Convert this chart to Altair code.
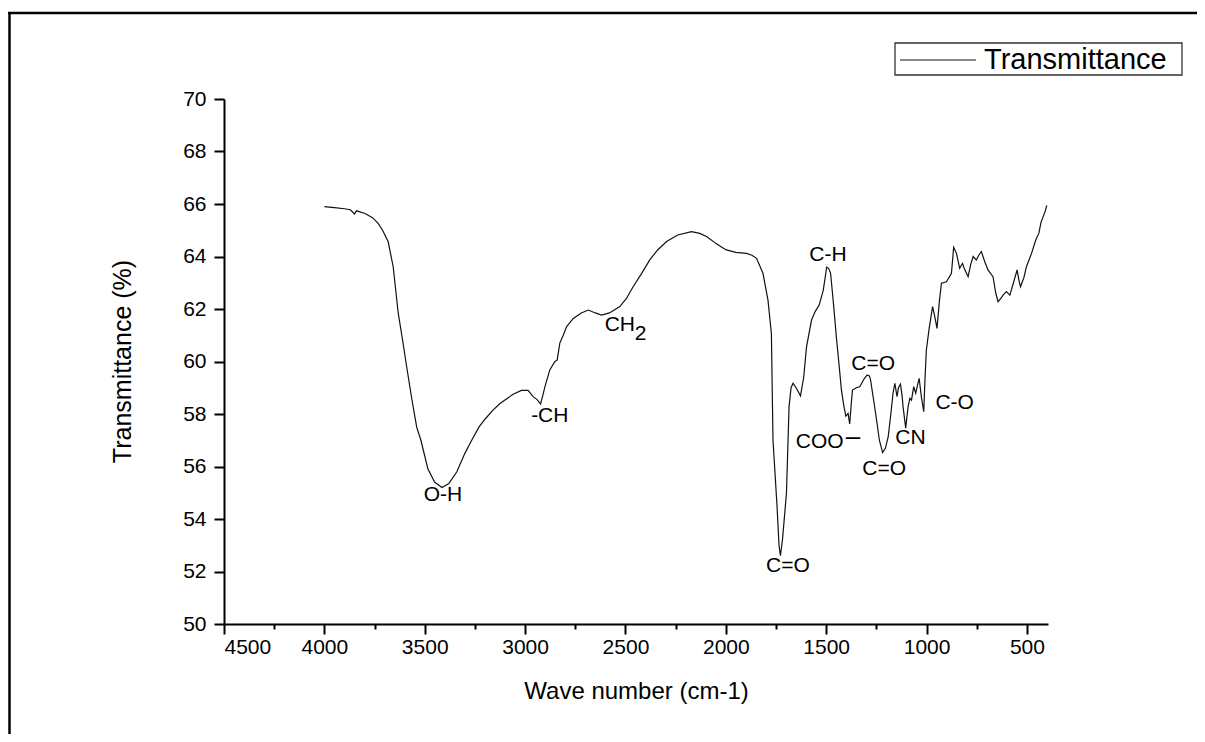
import altair as alt
import pandas as pd

# ---- spectrum (wave number in cm-1, transmittance in %) ----
wavenumber = [
    4000, 3950, 3900, 3870, 3850, 3840, 3800, 3760, 3732, 3710, 3682, 3657, 3632, 3610,
    3590, 3565, 3540, 3519, 3500, 3484, 3450, 3414, 3380, 3340, 3300, 3266, 3230, 3200,
    3160, 3125, 3060, 3018, 2985, 2960, 2940, 2923, 2912, 2901, 2877, 2852, 2840, 2827,
    2810, 2793, 2760, 2720, 2685, 2650, 2619, 2580, 2528, 2495, 2462, 2420, 2379, 2340,
    2295, 2240, 2171, 2130, 2096, 2050, 2020, 1997, 1950, 1897, 1870, 1847, 1815, 1790,
    1773, 1765, 1745, 1735, 1728, 1718, 1710, 1698, 1685, 1675, 1665, 1650, 1628, 1612,
    1598, 1573, 1555, 1535, 1515, 1505, 1498, 1488, 1478, 1465, 1448, 1435, 1424, 1412,
    1402, 1391, 1383, 1375, 1369, 1350, 1333, 1310, 1296, 1285, 1279, 1265, 1249, 1235,
    1219, 1205, 1191, 1178, 1167, 1158, 1147, 1140, 1130, 1122, 1117, 1104, 1092, 1083,
    1075, 1064, 1054, 1045, 1037, 1026, 1014, 1008, 1001, 987, 970, 959, 948, 936,
    926, 901, 876, 865, 851, 835, 821, 810, 793, 780, 768, 752, 740, 727,
    710, 694, 669, 655, 644, 630, 619, 602, 585, 567, 549, 540, 532, 515,
    502, 477, 456, 440, 430, 420, 410, 401,
]
transmittance = [
    65.90, 65.86, 65.82, 65.78, 65.62, 65.74, 65.65, 65.48, 65.26, 65.00, 64.56, 63.60, 61.84, 60.80,
    59.80, 58.60, 57.50, 57.00, 56.40, 55.90, 55.40, 55.20, 55.35, 55.80, 56.50, 57.00, 57.50, 57.80,
    58.15, 58.40, 58.75, 58.90, 58.90, 58.66, 58.55, 58.38, 58.70, 59.04, 59.68, 59.99, 60.06, 60.70,
    61.00, 61.33, 61.64, 61.85, 61.96, 61.85, 61.77, 61.85, 62.09, 62.40, 62.85, 63.35, 63.87, 64.25,
    64.57, 64.82, 64.95, 64.88, 64.76, 64.50, 64.35, 64.25, 64.16, 64.12, 64.05, 63.93, 63.36, 62.34,
    61.07, 57.00, 54.50, 53.00, 52.60, 53.20, 53.90, 54.98, 58.28, 59.00, 59.17, 59.00, 58.69, 59.40,
    60.56, 61.58, 61.90, 62.15, 62.70, 63.20, 63.59, 63.55, 63.36, 62.30, 60.82, 59.80, 58.91, 58.30,
    57.92, 58.02, 57.62, 58.40, 58.91, 59.00, 59.04, 59.35, 59.49, 59.45, 59.30, 58.60, 57.77, 57.00,
    56.53, 56.70, 57.14, 58.00, 58.79, 59.17, 58.66, 59.00, 59.14, 58.70, 58.28, 57.46, 58.28, 58.60,
    58.53, 59.04, 58.79, 59.10, 59.36, 58.66, 58.09, 59.30, 60.44, 61.26, 62.09, 61.71, 61.26, 62.30,
    62.98, 63.04, 63.36, 64.35, 64.12, 63.55, 63.74, 63.50, 63.23, 63.70, 64.00, 63.87, 64.05, 64.19,
    63.80, 63.49, 63.23, 62.60, 62.28, 62.40, 62.53, 62.66, 62.53, 63.00, 63.49, 63.10, 62.85, 63.20,
    63.62, 64.12, 64.63, 64.90, 65.30, 65.50, 65.70, 65.95,
]
series_name = "Transmittance"

# ---- band annotations ----
ann_labels = ["O-H", "-CH", "CH", "2", "C=O", "C-H", "C=O", "COO", "C=O", "CN", "C-O"]
ann_wn = [3409, 2877, 2528, 2425, 1691, 1491, 1266, 1532, 1211, 1080, 860]
ann_t = [54.91, 57.92, 61.39, 61.05, 52.21, 64.06, 59.90, 56.94, 55.89, 57.07, 58.43]
# raised dash after "COO"
dash_label = ["\u2013"]
dash_wn = [1366]
dash_t = [57.12]

x_ticks = list(range(500, 4501, 250))
y_ticks = list(range(50, 71))

FONT = "Liberation Sans"

df = pd.DataFrame({"wn": wavenumber, "T": transmittance})
ann = pd.DataFrame({"wn": ann_wn, "T": ann_t, "label": ann_labels})
dash = pd.DataFrame({"wn": dash_wn, "T": dash_t, "label": dash_label})

xscale = alt.Scale(domain=[4500, 395], nice=False, zero=False)
yscale = alt.Scale(domain=[50, 70], nice=False, zero=False)

x_axis = alt.Axis(
    title="Wave number (cm-1)", values=x_ticks, grid=False, format="d",
    labelExpr="datum.value % 500 === 0 ? datum.label : ''",
    tickSize={"condition": {"test": "datum.value % 500 === 0", "value": 10}, "value": 5},
    labelFontSize=21, labelPadding=2, titleFontSize=24,
    titleX=412, titleY=67, titleBaseline="middle", titleAlign="center",
)
y_axis = alt.Axis(
    title="Transmittance (%)", values=y_ticks, grid=False, format="d",
    labelExpr="datum.value % 2 === 0 ? datum.label : ''",
    tickSize={"condition": {"test": "datum.value % 2 === 0", "value": 10}, "value": 5},
    labelFontSize=21, labelPadding=8, titleFontSize=25,
    titleX=-102, titleY=262, titleAngle=-90, titleBaseline="middle", titleAlign="center",
)

line = alt.Chart(df).mark_line(strokeWidth=1.2, color="#111111").encode(
    x=alt.X("wn:Q", scale=xscale, axis=x_axis),
    y=alt.Y("T:Q", scale=yscale, axis=y_axis),
    order=alt.Order("wn:Q", sort="descending"),
)

labels = alt.Chart(ann).mark_text(
    font=FONT, fontSize=21, color="black", align="center", baseline="middle"
).encode(
    x=alt.X("wn:Q", scale=xscale),
    y=alt.Y("T:Q", scale=yscale),
    text="label:N",
)
dash_mark = alt.Chart(dash).mark_text(
    font=FONT, fontSize=26, color="black", align="center", baseline="middle"
).encode(
    x=alt.X("wn:Q", scale=xscale),
    y=alt.Y("T:Q", scale=yscale),
    text="label:N",
)

# ---- legend box (drawn by hand, top right) ----
leg_df = pd.DataFrame({"series": [series_name]})
leg_box = alt.Chart(leg_df).mark_rect(
    fill="white", stroke="#333333", strokeWidth=1.3
).encode(x=alt.value(671), x2=alt.value(958), y=alt.value(-56), y2=alt.value(-24))
leg_line = alt.Chart(leg_df).mark_rule(color="#111111", strokeWidth=1.2).encode(
    x=alt.value(676), x2=alt.value(752), y=alt.value(-39)
)
leg_text = alt.Chart(leg_df).mark_text(
    font=FONT, fontSize=29, color="black", align="left", baseline="middle"
).encode(x=alt.value(760), y=alt.value(-39), text="series:N")

# ---- outer picture frame (top and left edges) ----
frame_df = pd.DataFrame({"k": [0]})
frame_top = alt.Chart(frame_df).mark_rule(color="black", strokeWidth=2.5).encode(
    x=alt.value(-216), x2=alt.value(990), y=alt.value(-86)
)
frame_left = alt.Chart(frame_df).mark_rule(color="black", strokeWidth=2.5).encode(
    x=alt.value(-214.5), y=alt.value(-87), y2=alt.value(660)
)

chart = alt.layer(
    frame_top, frame_left, line, labels, dash_mark, leg_box, leg_line, leg_text
).properties(
    width=824, height=525,
    autosize=alt.AutoSizeParams(type="none"),
    padding={"left": 216, "top": 91, "right": 149, "bottom": 110},
    background="white",
).configure_view(stroke=None).configure_axis(
    domainColor="black", domainWidth=2, tickColor="black", tickWidth=2,
    labelFont=FONT, titleFont=FONT, labelColor="black", titleColor="black",
    titleFontWeight="normal",
)

chart.save("out.html", embed_options={"renderer": "svg", "actions": False})
